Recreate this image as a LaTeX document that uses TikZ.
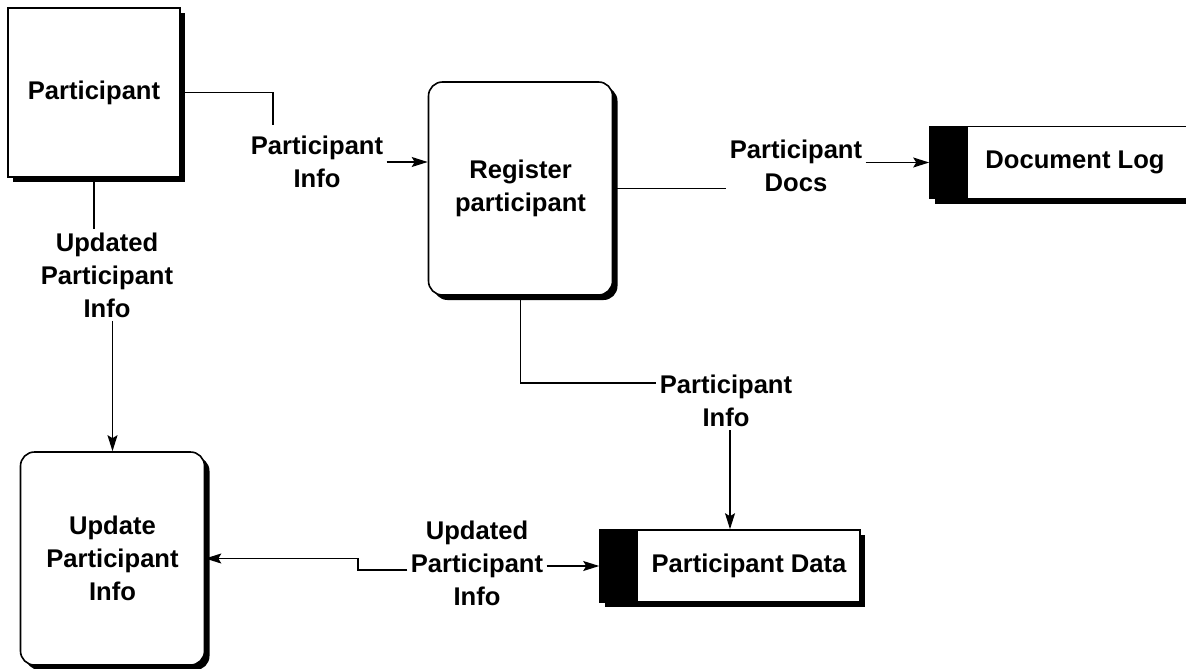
\documentclass[tikz,border=0pt]{standalone}
\usepackage{fontspec}
\setmainfont{Liberation Sans}
\usetikzlibrary{shadows,arrows.meta,calc}
\begin{document}
\begin{tikzpicture}[x=0.5pt,y=-0.5pt,
  font=\bfseries\fontsize{12.8}{16.5}\selectfont,
  base/.style={draw=black, line width=0.8pt, fill=white, inner sep=0pt,
     drop shadow={shadow xshift=2.5pt, shadow yshift=-2.5pt, fill=black, opacity=1}},
  entity/.style={base, rectangle, minimum width=86pt, minimum height=84.5pt},
  process/.style={base, rectangle, rounded corners=7pt, minimum width=92pt, minimum height=106.5pt, align=center},
  store/.style={base, rectangle, minimum height=36pt,
     path picture={\fill[black] (path picture bounding box.north west) rectangle ([xshift=19pt]path picture bounding box.south west);}},
  lbl/.style={align=center, inner sep=1.5pt},
  flow/.style={line width=0.7pt},
  arr/.style={flow, -{Stealth[length=8pt,width=5pt,inset=1.5pt]}}
]
\useasboundingbox (0,0) rectangle (1186,668);
\fill[white] (0,0) rectangle (1186,668);

\node[entity] (part) at (94,92.5) {Participant};
\node[process] (reg) at (520.5,188.5) {Register\\participant};
\node[process] (upd) at (112.5,558.5) {Update\\Participant\\Info};
\node[store, minimum width=145pt] (doclog) at (1075,162.5) {Document Log};
\node[store, minimum width=130pt, label={[xshift=9.5pt]center:Participant Data}] (pdata) at (730,566) {};

\node[lbl] (l1) at (317,162) {Participant\\Info};
\node[lbl] (l2) at (796,166) {Participant\\Docs};
\node[lbl] (l3) at (726,401) {Participant\\Info};
\node[lbl] (l4) at (107,275) {Updated\\Participant\\Info};
\node[lbl] (l5) at (477,563) {Updated\\Participant\\Info};

\coordinate (k1) at (273,125);
\coordinate (k2) at (358,570);

\draw[flow] (part.east) -| (k1);
\draw[arr] (l1.east) -- (l1.east -| reg.west);
\draw[flow] (reg.east) -- (reg.east -| l2.west);
\draw[arr] (l2.east |- doclog.west) -- (doclog.west);
\draw[flow] (reg.south) |- ([yshift=9pt]l3.west);
\draw[arr] (l3.south -| pdata.north) -- (pdata.north);
\draw[flow] (part.south) -- (part.south |- l4.north);
\draw[arr] (l4.south -| upd.north) -- (upd.north);
\draw[arr] (l5.east |- pdata.west) -- (pdata.west);
\draw[arr] ([yshift=-3.5pt]l5.west) -- (k2) |- (upd.east);
\end{tikzpicture}
\end{document}
